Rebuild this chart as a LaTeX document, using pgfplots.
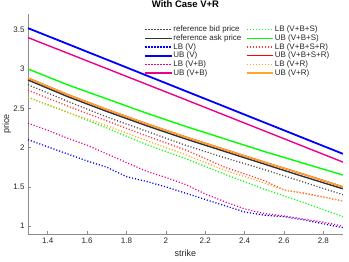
\documentclass[border=0pt]{standalone}
\usepackage{pgfplots}
\pgfplotsset{compat=1.18}
\usepackage{fontspec}
\setmainfont{Liberation Sans}
\definecolor{myorange}{rgb}{1,0.65,0.15}
\definecolor{axgray}{gray}{0.15}
\begin{document}
\begin{tikzpicture}
\begin{axis}[
  scale only axis, width=315pt, height=220pt,
  xmin=1.3, xmax=2.9, ymin=0.9, ymax=3.7,
  axis x line*=bottom, axis y line*=left,
  axis line style={black!45, line width=0.5pt},
  tick style={black!45, line width=0.5pt},
  tick align=inside, major tick length=3pt,
  xtick={1.4,1.6,1.8,2,2.2,2.4,2.6,2.8},
  ytick={1,1.5,2,2.5,3,3.5},
  /pgf/number format/assume math mode=true,
  ticklabel style={font=\fontsize{8}{9}\selectfont, text=axgray},
  xlabel={strike}, ylabel={price},
  xlabel style={font=\fontsize{9}{10}\selectfont, text=axgray, at={(axis description cs:0.5,-0.086)}, anchor=center},
  ylabel style={font=\fontsize{9}{10}\selectfont, text=axgray, at={(axis description cs:-0.067,0.5)}, anchor=center},
  title={With Case V+R},
  title style={font=\fontsize{9.5}{11}\selectfont\bfseries, yshift=-3pt},
  legend columns=2,
  legend cell align=left,
  legend style={draw=none, fill=none, at={(axis description cs:0.36,0.96)}, anchor=north west,
    font=\fontsize{8}{9}\selectfont, text=axgray,
    nodes={inner sep=1pt}, row sep=-0.6pt,
    /tikz/every even column/.append style={column sep=4pt}},
  legend image code/.code={\draw[#1] (0pt,0pt) -- (26pt,0pt);},
  every axis plot/.append style={line join=round},
]
\tikzset{dots/.style={line width=1.25pt, dash pattern=on 1.1pt off 1.9pt}}
% reference bid
\addplot[black!70, dots, forget plot] coordinates {(1.3,2.80) (1.5,2.59) (1.7,2.39) (1.9,2.21) (2.1,2.03) (2.3,1.87) (2.5,1.72) (2.7,1.56) (2.9,1.40)};
% reference ask
\addplot[black!80, line width=1.4pt, forget plot] coordinates {(1.3,2.86) (1.5,2.65) (1.7,2.46) (1.9,2.28) (2.1,2.11) (2.3,1.95) (2.5,1.79) (2.7,1.63) (2.9,1.475)};
% LB (V)
\addplot[blue, dots, forget plot] coordinates {(1.3,2.10) (1.4,2.01) (1.5,1.92) (1.6,1.83) (1.7,1.75) (1.8,1.63) (1.9,1.57) (2.0,1.50) (2.1,1.42) (2.2,1.34) (2.3,1.26) (2.4,1.18) (2.5,1.14) (2.6,1.12) (2.7,1.08) (2.8,1.03) (2.9,0.98)};
% UB (V)
\addplot[blue, line width=1.8pt, forget plot] coordinates {(1.3,3.52) (2.1,2.72) (2.9,1.92)};
% LB (V+B)
\addplot[magenta, dots, forget plot] coordinates {(1.3,2.31) (1.4,2.22) (1.5,2.12) (1.6,2.03) (1.7,1.92) (1.8,1.81) (1.9,1.70) (2.0,1.62) (2.1,1.53) (2.2,1.41) (2.3,1.31) (2.4,1.22) (2.5,1.16) (2.6,1.13) (2.7,1.09) (2.8,1.05) (2.9,1.00)};
% UB (V+B)
\addplot[magenta, line width=1.4pt, forget plot] coordinates {(1.3,3.40) (2.1,2.61) (2.9,1.815)};
% LB (V+B+S)
\addplot[green, dots, forget plot] coordinates {(1.3,2.64) (1.5,2.45) (1.7,2.25) (1.9,2.04) (2.1,1.86) (2.3,1.66) (2.5,1.47) (2.7,1.30) (2.9,1.12)};
% UB (V+B+S)
\addplot[green, line width=1.4pt, forget plot] coordinates {(1.3,3.00) (1.5,2.80) (1.7,2.62) (1.9,2.44) (2.1,2.27) (2.3,2.11) (2.5,1.95) (2.7,1.80) (2.9,1.65)};
% LB (V+B+S+R)
\addplot[red!80, dots, forget plot] coordinates {(1.3,2.73) (1.5,2.53) (1.7,2.34) (1.9,2.15) (2.1,1.97) (2.3,1.75) (2.5,1.58) (2.6,1.46) (2.7,1.42) (2.8,1.37) (2.9,1.32)};
% UB (V+B+S+R)
\addplot[red, line width=1.4pt, forget plot] coordinates {(1.3,2.885) (1.5,2.675) (1.7,2.485) (1.9,2.305) (2.1,2.135) (2.3,1.975) (2.5,1.815) (2.7,1.66) (2.9,1.50)};
% LB (V+R)
\addplot[myorange, dots, forget plot] coordinates {(1.3,2.64) (1.5,2.45) (1.7,2.28) (1.9,2.09) (2.1,1.91) (2.3,1.71) (2.5,1.55) (2.6,1.46) (2.7,1.42) (2.8,1.37) (2.9,1.32)};
% UB (V+R)
\addplot[myorange, line width=1.4pt, forget plot] coordinates {(1.3,2.885) (1.5,2.675) (1.7,2.485) (1.9,2.305) (2.1,2.135) (2.3,1.975) (2.5,1.815) (2.7,1.66) (2.9,1.50)};
% legend (column-major order)
\addlegendimage{black!70, dots}\addlegendentry{reference bid price}
\addlegendimage{green, dots}\addlegendentry{LB (V+B+S)}
\addlegendimage{black!80, line width=1.4pt}\addlegendentry{reference ask price}
\addlegendimage{green, line width=1.4pt}\addlegendentry{UB (V+B+S)}
\addlegendimage{blue, dots}\addlegendentry{LB (V)}
\addlegendimage{red!80, dots}\addlegendentry{LB (V+B+S+R)}
\addlegendimage{blue, line width=1.8pt}\addlegendentry{UB (V)}
\addlegendimage{red, line width=1.4pt}\addlegendentry{UB (V+B+S+R)}
\addlegendimage{magenta, dots}\addlegendentry{LB (V+B)}
\addlegendimage{myorange, dots}\addlegendentry{LB (V+R)}
\addlegendimage{magenta, line width=1.4pt}\addlegendentry{UB (V+B)}
\addlegendimage{myorange, line width=1.4pt}\addlegendentry{UB (V+R)}
\end{axis}
\pgfresetboundingbox
\useasboundingbox (-28pt,-28pt) rectangle (321pt,234pt);
\end{tikzpicture}
\end{document}
